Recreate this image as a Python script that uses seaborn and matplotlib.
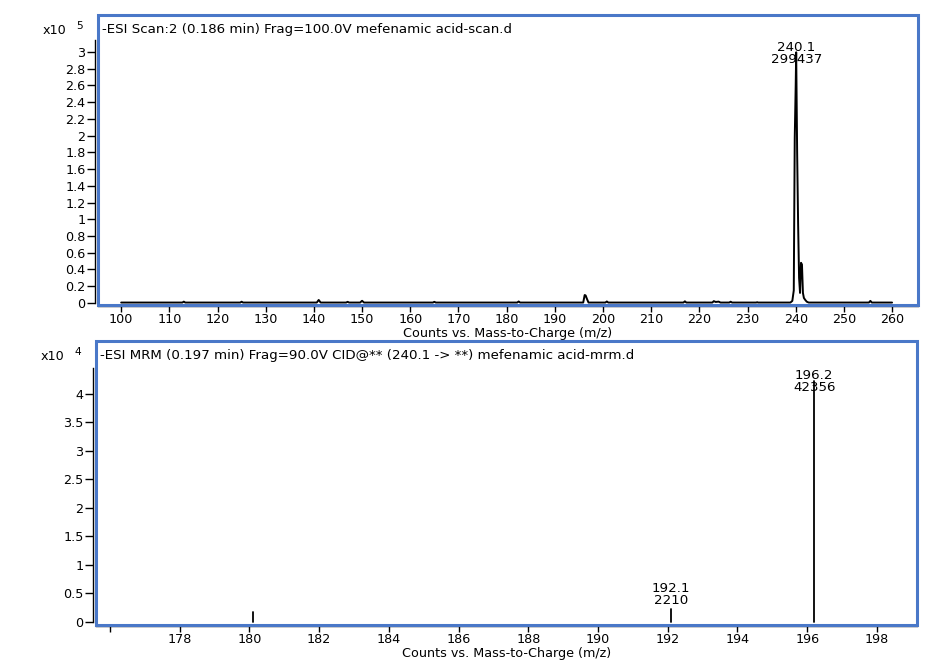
import numpy as np
import pandas as pd
import matplotlib
matplotlib.use("Agg")
import matplotlib.pyplot as plt
import seaborn as sns
from matplotlib.patches import Rectangle
from matplotlib.ticker import FixedLocator, FuncFormatter

# ---------------- data ----------------
# Scan spectrum (profile), m/z and counts
scan_mz = [100.0, 112.7, 113.0, 113.3, 124.7, 125.0, 125.3, 140.6, 141.0, 141.4,
           146.7, 147.0, 147.3, 149.6, 150.0, 150.4, 164.7, 165.0, 165.3,
           182.2, 182.5, 182.8, 195.9, 196.2, 196.4, 196.7, 197.0,
           200.5, 200.8, 201.1, 216.7, 217.0, 217.3, 222.7, 223.0, 223.4,
           224.0, 224.4, 226.2, 226.5, 226.8, 231.8, 232.0, 232.2,
           238.9, 239.3, 239.6, 239.8, 240.0, 240.1, 240.3, 240.5, 240.7,
           240.9, 241.1, 241.3, 241.5, 241.7, 242.0, 242.3, 242.7,
           255.2, 255.5, 255.8, 260.0]
scan_counts = [500, 500, 1600, 500, 500, 1500, 500, 500, 3600, 500,
               500, 1400, 500, 500, 2600, 500, 500, 1400, 500,
               500, 1800, 500, 500, 9500, 9000, 4500, 500,
               500, 1800, 500, 500, 2000, 500, 500, 2200, 1200,
               1600, 500, 500, 1500, 500, 500, 900, 500,
               500, 2500, 15000, 197000, 260000, 299437, 180000, 95000, 30000,
               12000, 48000, 46000, 12000, 6000, 3500, 1500, 500,
               500, 2500, 500, 500]
scan_label_mz = [240.1]
scan_label_counts = [299437]

# MRM product-ion sticks
mrm_mz = [180.1, 192.1, 196.2]
mrm_counts = [1700, 2210, 42356]
mrm_label_mz = [192.1, 196.2]
mrm_label_counts = [2210, 42356]

top_title = "-ESI Scan:2 (0.186 min) Frag=100.0V mefenamic acid-scan.d"
bot_title = "-ESI MRM (0.197 min) Frag=90.0V CID@** (240.1 -> **) mefenamic acid-mrm.d"
xlabel = "Counts vs. Mass-to-Charge (m/z)"

top_xticks = list(range(100, 261, 10))
top_yticks = [0, 20000, 40000, 60000, 80000, 100000, 120000, 140000, 160000,
              180000, 200000, 220000, 240000, 260000, 280000, 300000]
bot_xticks = list(range(176, 199, 2))
bot_yticks = [0, 5000, 10000, 15000, 20000, 25000, 30000, 35000, 40000]

# ---------------- style ----------------
sns.set_theme(style="white")
plt.rcParams['font.family'] = ['DejaVu Sans']
FS = 9.6
TFS = 9.2
BLUE = "#4a78c8"

fig = plt.figure(figsize=(9.5, 6.63), dpi=100)
ax1 = fig.add_axes([0.1032, 0.5400, 0.8632, 0.4374])
ax2 = fig.add_axes([0.1011, 0.0573, 0.8642, 0.4284])

scan_df = pd.DataFrame({"mz": scan_mz, "counts": scan_counts})
sns.lineplot(data=scan_df, x="mz", y="counts", ax=ax1, color="black",
             linewidth=1.4, estimator=None, sort=False)

stick_rows = []
for i, (m, c) in enumerate(zip(mrm_mz, mrm_counts)):
    stick_rows.append({"mz": m, "counts": 0, "stick": i})
    stick_rows.append({"mz": m, "counts": c, "stick": i})
mrm_df = pd.DataFrame(stick_rows)
sns.lineplot(data=mrm_df, x="mz", y="counts", units="stick", ax=ax2,
             color="black", linewidth=1.3, estimator=None, sort=False)


def style_axes(ax, xlim, ylim, xticks, yticks, scale, ybound, xtick_labels=None):
    ax.set_xlim(*xlim)
    ax.set_ylim(*ylim)
    for s in ["top", "right"]:
        ax.spines[s].set_visible(False)
    ax.spines["left"].set_color("black")
    ax.spines["left"].set_linewidth(1.0)
    ax.spines["left"].set_position(("outward", 2.5))
    ax.spines["left"].set_bounds(0, ybound)
    ax.spines["bottom"].set_color("black")
    ax.spines["bottom"].set_linewidth(1.0)
    ax.spines["bottom"].set_position(("outward", 1))
    ax.add_patch(Rectangle((0, 0), 1, 1, transform=ax.transAxes, fill=False,
                           edgecolor=BLUE, linewidth=2.2, clip_on=False, zorder=5))
    ax.xaxis.set_major_locator(FixedLocator(xticks))
    ax.yaxis.set_major_locator(FixedLocator(yticks))
    ax.yaxis.set_major_formatter(FuncFormatter(lambda v, p: f"{v / scale:g}"))
    if xtick_labels is not None:
        ax.set_xticklabels(xtick_labels)
    ax.tick_params(axis="both", which="major", direction="out", colors="black",
                   labelsize=TFS, length=4.5, width=1.0, pad=0.5,
                   bottom=True, left=True)
    ax.tick_params(axis="y", length=5.5, pad=1.0)
    ax.set_xlabel(xlabel, fontsize=TFS, labelpad=0.5, color="black")
    ax.set_ylabel("")
    ax.grid(False)


style_axes(ax1, (95.2, 265.4), (-2400, 344000), top_xticks, top_yticks, 1e5, 314000)
style_axes(ax2, (175.6, 199.15), (-530, 49300), bot_xticks, bot_yticks, 1e4, 44600,
           xtick_labels=[""] + [str(t) for t in bot_xticks[1:]])

for ax, title, exp in [(ax1, top_title, "5"), (ax2, bot_title, "4")]:
    ax.annotate(title, xy=(0, 1), xycoords="axes fraction", xytext=(3.2, -10.3),
                textcoords="offset points", ha="left", va="center",
                fontsize=FS, color="black", zorder=6)
    ax.annotate("x10", xy=(0, 1), xycoords="axes fraction", xytext=(-31.5, -11.0),
                textcoords="offset points", ha="center", va="center",
                fontsize=TFS, color="black", annotation_clip=False)
    ax.annotate(exp, xy=(0, 1), xycoords="axes fraction", xytext=(-13.0, -7.6),
                textcoords="offset points", ha="center", va="center",
                fontsize=TFS - 1.5, color="black", annotation_clip=False)

for m, c in zip(scan_label_mz, scan_label_counts):
    ax1.annotate(f"{m}\n{c}", xy=(m, c), xytext=(0, -10), textcoords="offset points",
                 ha="center", va="bottom", fontsize=FS, linespacing=0.9, color="black")

for m, c in zip(mrm_label_mz, mrm_label_counts):
    off = -10 if c > 20000 else 1.5
    ax2.annotate(f"{m}\n{c}", xy=(m, c), xytext=(0, off), textcoords="offset points",
                 ha="center", va="bottom", fontsize=FS, linespacing=0.9, color="black")

fig.savefig("out.png", dpi=100, facecolor="white")
